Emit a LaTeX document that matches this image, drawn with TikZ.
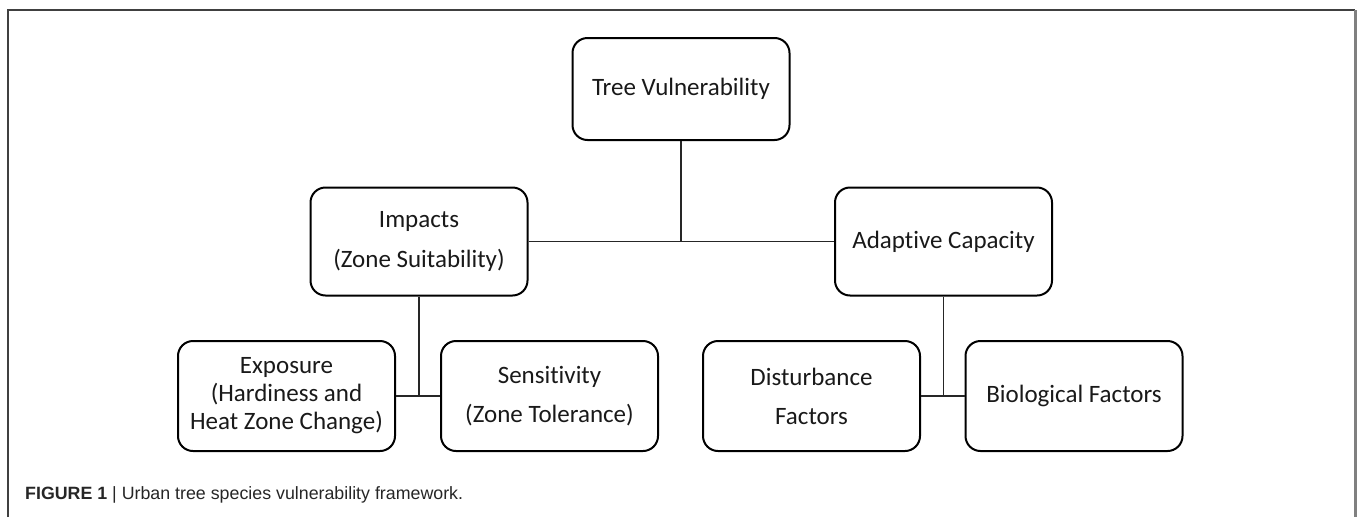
\documentclass[tikz,border=0pt]{standalone}
\usepackage{fontspec}
\setmainfont[Ligatures=NoCommon]{Carlito}
\newfontfamily\capfont{Liberation Sans}
\begin{document}
\begin{tikzpicture}[x=1pt,y=-1pt,
  box/.style={draw=black, line width=2pt, rounded corners=15pt, minimum width=217pt, minimum height=108pt, align=center, inner sep=0pt, font=\fontsize{25}{28}\selectfont, text=black!90},
  conn/.style={draw=black!85, line width=1.5pt}]
\useasboundingbox (0,0) rectangle (1357,517);
\draw[black!75, line width=1.5pt] (8,517) -- (8,10) -- (1355,10);
\draw[black!50, line width=3pt] (1355,10) -- (1355,517);

\node[box, minimum height=102pt] (tv) at (681,89) {Tree Vulnerability};
\node[box] (imp) at (419,241.5) {Impacts\\[12pt](Zone Suitability)};
\node[box] (ac) at (943.5,241.5) {Adaptive Capacity};
\node[box, minimum height=110pt] (exp) at (286.5,396) {Exposure\\(Hardiness and\\Heat Zone Change)};
\node[box, minimum height=110pt] (sen) at (549.5,396) {Sensitivity\\[11pt](Zone Tolerance)};
\node[box, minimum height=110pt] (dis) at (811.5,396) {Disturbance\\[11pt]Factors};
\node[box, minimum height=110pt] (bio) at (1074,396) {Biological Factors};

\coordinate (j1) at (tv.south |- imp.east);
\coordinate (j2) at (imp.south |- exp.east);
\coordinate (j3) at (ac.south |- dis.east);
\draw[conn] (tv.south) -- (j1);
\draw[conn] (imp.east) -- (ac.west);
\draw[conn] (imp.south) -- (j2);
\draw[conn] (exp.east) -- (sen.west);
\draw[conn] (ac.south) -- (j3);
\draw[conn] (dis.east) -- (bio.west);

\node[anchor=base west, inner sep=0pt, font=\capfont\fontsize{17.8}{20}\selectfont, text=black!85] (cap) at (25,499) {\textbf{FIGURE 1} | Urban tree species vulnerability framework.};
\end{tikzpicture}
\end{document}
